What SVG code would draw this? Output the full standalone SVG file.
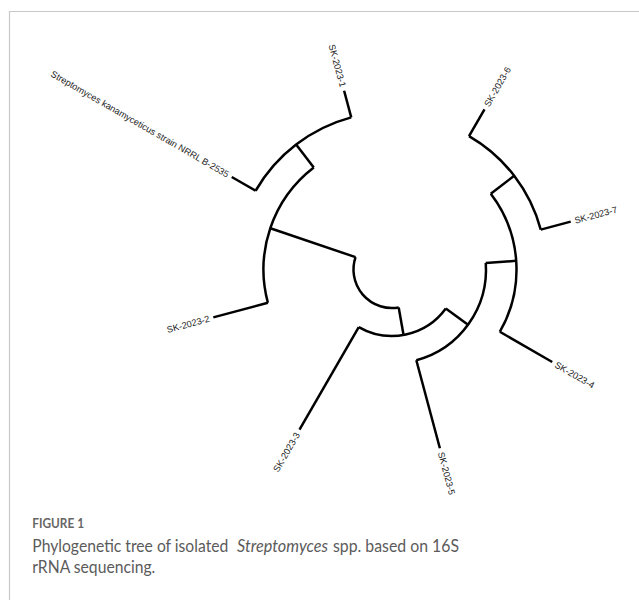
<svg xmlns="http://www.w3.org/2000/svg" width="639" height="600" viewBox="0 0 639 600">
<style>
.br{fill:none;stroke:#000;stroke-width:2.5;stroke-linecap:butt;stroke-linejoin:miter}
.lb{font-family:"Liberation Sans",Arial,sans-serif;font-size:9.2px;fill:#222}
.cap{font-family:Lato,"Open Sans","Liberation Sans",sans-serif;fill:#5b5b5b;font-size:17px;font-weight:400}
.fig{font-family:Lato,"Open Sans","Liberation Sans",sans-serif;fill:#666;font-size:14px;font-weight:700}
.frame{fill:none;stroke:#c8c8c8;stroke-width:1.2}
</style>
<rect width="639" height="600" fill="#fff"/>
<path class="frame" d="M9.5 600 V11.5 H639"/>
<g id="connectors">
<path class="br" d="M355.54 257.13 A38.5 38.5 0 0 0 398.69 307.41"/>
<path class="br" d="M355.54 257.13 L270.32 228.20"/>
<path class="br" d="M398.69 307.41 L403.55 334.99"/>
<path class="br" d="M267.88 302.76 A128.5 128.5 0 0 1 313.77 167.55"/>
<path class="br" d="M267.88 302.76 L213.30 317.38"/>
<path class="br" d="M313.77 167.55 L296.12 144.55"/>
<path class="br" d="M255.60 190.75 A157.5 157.5 0 0 1 351.24 117.37"/>
<path class="br" d="M255.60 190.75 L231.78 177.00"/>
<path class="br" d="M351.24 117.37 L344.12 90.80"/>
<path class="br" d="M445.80 308.59 A66.5 66.5 0 0 1 358.75 327.09"/>
<path class="br" d="M358.75 327.09 L299.50 429.72"/>
<path class="br" d="M445.80 308.59 L468.05 324.75"/>
<path class="br" d="M485.77 262.94 A94 94 0 0 1 416.33 360.30"/>
<path class="br" d="M416.33 360.30 L439.88 448.20"/>
<path class="br" d="M485.77 262.94 L516.20 260.82"/>
<path class="br" d="M490.77 193.71 A124.5 124.5 0 0 1 499.82 331.75"/>
<path class="br" d="M499.82 331.75 L552.22 362.00"/>
<path class="br" d="M490.77 193.71 L514.18 175.75"/>
<path class="br" d="M469.00 136.13 A154 154 0 0 1 540.75 229.64"/>
<path class="br" d="M469.00 136.13 L484.50 109.28"/>
<path class="br" d="M540.75 229.64 L570.70 221.62"/>
</g>
<g id="leaf-sk1"><text class="lb" text-anchor="end" dy="0.35em" transform="translate(343.08 86.94) rotate(75)">SK-2023-1</text></g>
<g id="leaf-kana"><text class="lb" text-anchor="end" dy="0.35em" transform="translate(228.32 175.00) rotate(30)">Streptomyces kanamyceticus strain NRRL B-2535</text></g>
<g id="leaf-sk2"><text class="lb" text-anchor="end" dy="0.35em" transform="translate(209.44 318.42) rotate(-15)">SK-2023-2</text></g>
<g id="leaf-sk3"><text class="lb" text-anchor="end" dy="0.35em" transform="translate(297.50 433.18) rotate(-60)">SK-2023-3</text></g>
<g id="leaf-sk5"><text class="lb" dy="0.35em" transform="translate(440.92 452.06) rotate(75)">SK-2023-5</text></g>
<g id="leaf-sk4"><text class="lb" dy="0.35em" transform="translate(555.68 364.00) rotate(30)">SK-2023-4</text></g>
<g id="leaf-sk7"><text class="lb" dy="0.35em" transform="translate(574.56 220.58) rotate(-15)">SK-2023-7</text></g>
<g id="leaf-sk6"><text class="lb" dy="0.35em" transform="translate(486.50 105.82) rotate(-60)">SK-2023-6</text></g>
<g id="caption">
<text class="fig" x="32.3" y="528" textLength="51.7" lengthAdjust="spacingAndGlyphs">FIGURE 1</text>
<text class="cap" x="32.3" y="551.5" textLength="196" lengthAdjust="spacingAndGlyphs">Phylogenetic tree of isolated</text>
<text class="cap" x="237" y="551.5" font-style="italic" textLength="91" lengthAdjust="spacingAndGlyphs">Streptomyces</text>
<text class="cap" x="333" y="551.5" textLength="126" lengthAdjust="spacingAndGlyphs">spp. based on 16S</text>
<text class="cap" x="32.3" y="572.5" textLength="123" lengthAdjust="spacingAndGlyphs">rRNA sequencing.</text>
</g>
</svg>
